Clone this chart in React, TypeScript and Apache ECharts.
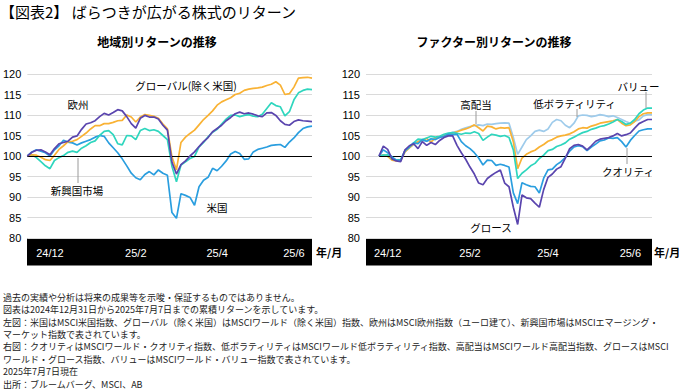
import React, { useEffect, useRef } from "react";
import * as echarts from "echarts";

// ---- Left panel: regional returns (index, 2024/12/31 = 100) ----
const usValues = [100, 101.0, 101.5, 101.2, 100.8, 100.0, 101.5, 102.5, 103.8, 103.4, 103.2, 102.7, 103.2, 103.6, 104.0, 104.6, 105.0, 104.8, 103.2, 102.0, 100.8, 99.3, 97.6, 95.8, 94.7, 94.2, 95.5, 96.2, 95.4, 96.6, 95.8, 95.3, 86.2, 84.8, 90.8, 90.4, 89.9, 88.0, 92.5, 94.1, 94.8, 97.0, 96.4, 97.5, 98.8, 100.5, 101.1, 100.6, 99.2, 99.3, 101.0, 101.6, 101.9, 102.2, 102.6, 102.7, 102.8, 102.1, 103.4, 104.4, 105.7, 106.7, 107.1, 107.3];
const globalExUsValues = [100, 100.3, 100.2, 99.7, 99.1, 98.9, 100.2, 101.6, 102.5, 103.5, 103.6, 104.0, 104.8, 105.6, 106.6, 107.4, 107.4, 107.9, 107.9, 108.2, 108.6, 108.7, 110.0, 109.5, 108.3, 109.5, 110.1, 109.9, 109.7, 109.2, 107.8, 106.6, 99.8, 96.6, 103.3, 104.6, 105.5, 106.3, 107.6, 108.9, 109.9, 111.0, 112.4, 113.2, 113.7, 114.2, 115.0, 115.3, 116.0, 116.3, 116.5, 116.6, 116.8, 117.2, 117.5, 118.1, 117.3, 115.0, 115.2, 116.8, 119.0, 119.1, 119.2, 119.0];
const europeValues = [100, 100.9, 101.4, 101.5, 101.0, 100.3, 101.8, 103.0, 103.3, 103.6, 104.6, 104.9, 106.5, 107.8, 108.1, 108.6, 109.6, 110.4, 110.0, 110.6, 111.3, 111.0, 109.6, 107.9, 106.8, 109.2, 109.9, 109.5, 109.5, 109.0, 107.5, 106.3, 98.5, 95.6, 97.9, 98.8, 100.0, 101.0, 102.3, 103.5, 104.5, 105.9, 106.7, 107.5, 108.6, 109.4, 110.3, 110.7, 110.3, 110.5, 110.2, 109.8, 109.6, 110.5, 110.6, 109.9, 108.6, 107.7, 107.5, 108.4, 108.8, 108.6, 108.5, 108.4];
const emValues = [100, 100.3, 99.6, 98.6, 97.6, 96.9, 98.9, 99.6, 100.1, 100.9, 101.2, 100.9, 101.9, 102.5, 103.3, 103.7, 105.0, 106.0, 106.2, 105.2, 103.0, 102.7, 105.0, 104.9, 104.0, 106.2, 106.7, 106.2, 106.4, 106.0, 105.0, 104.0, 97.5, 93.7, 97.8, 98.6, 99.4, 99.9, 102.2, 103.3, 104.7, 105.8, 106.5, 107.8, 109.0, 109.9, 110.0, 109.6, 109.9, 110.1, 109.7, 109.6, 110.2, 111.6, 113.0, 112.3, 112.0, 109.8, 110.8, 113.7, 115.4, 116.0, 116.3, 116.2];

// ---- Right panel: factor returns ----
const qualityValues = [100, 101.5, 100.8, 99.8, 99.0, 98.9, 101.3, 102.2, 103.2, 103.0, 104.0, 103.6, 104.2, 104.0, 104.5, 104.8, 105.3, 105.2, 105.3, 103.5, 102.5, 101.8, 100.8, 99.5, 97.8, 99.0, 98.9, 97.7, 98.0, 97.7, 97.3, 91.0, 88.4, 93.5, 93.0, 92.6, 92.5, 91.0, 94.6, 96.6, 96.8, 97.9, 98.6, 99.6, 101.2, 102.2, 102.5, 102.3, 101.3, 102.2, 102.9, 103.7, 103.9, 104.4, 104.3, 104.5, 103.5, 102.2, 103.8, 105.0, 106.1, 106.4, 106.6, 106.6];
const minVolValues = [100, 100.3, 100.0, 99.2, 98.9, 99.0, 101.0, 102.0, 102.8, 103.5, 103.8, 103.6, 104.0, 104.3, 104.6, 105.0, 105.4, 105.8, 106.0, 106.5, 106.9, 107.2, 107.4, 107.6, 107.4, 107.8, 107.7, 107.9, 108.0, 108.1, 108.0, 104.5, 100.4, 102.2, 104.0, 104.9, 106.0, 106.3, 106.0, 106.6, 108.2, 108.9, 108.6, 107.5, 106.9, 108.0, 109.8, 110.0, 109.9, 109.6, 109.8, 110.1, 109.9, 109.6, 109.8, 109.4, 108.9, 108.4, 108.0, 108.5, 108.8, 109.8, 110.1, 110.1];
const highDivValues = [100, 100.2, 99.9, 99.0, 98.8, 98.9, 101.0, 102.0, 102.9, 103.5, 103.8, 104.3, 103.4, 104.4, 104.7, 104.9, 105.2, 105.6, 105.9, 106.3, 106.6, 107.0, 107.6, 106.9, 106.1, 107.3, 107.1, 106.6, 106.9, 106.8, 106.9, 103.5, 96.9, 99.5, 100.4, 101.0, 101.4, 102.2, 102.8, 103.6, 104.0, 104.6, 104.9, 105.1, 105.4, 105.9, 106.6, 106.9, 106.8, 107.3, 107.6, 108.0, 108.2, 108.4, 108.6, 108.9, 108.0, 107.4, 107.6, 108.4, 109.6, 110.3, 110.5, 110.5];
const growthValues = [100, 102.4, 101.6, 99.3, 98.8, 98.6, 101.5, 102.5, 103.0, 101.8, 103.5, 102.6, 103.3, 102.8, 103.8, 104.5, 104.9, 104.9, 102.6, 100.8, 99.2, 97.3, 95.6, 93.4, 93.0, 94.5, 95.3, 96.0, 96.6, 93.4, 92.5, 87.5, 83.3, 90.5, 89.8, 89.6, 88.5, 87.5, 91.8, 94.8, 95.6, 96.8, 97.4, 99.5, 101.8, 102.6, 102.8, 102.4, 101.5, 102.5, 103.6, 104.1, 104.3, 104.5, 104.9, 105.5, 104.9, 105.2, 105.6, 106.8, 107.9, 108.4, 108.9, 108.9];
const valueValues = [100, 100.2, 100.3, 99.4, 99.0, 99.1, 101.3, 102.2, 103.2, 104.1, 104.0, 104.4, 104.8, 104.6, 104.8, 105.3, 105.6, 105.7, 105.5, 105.3, 105.6, 105.5, 105.9, 105.5, 103.8, 104.6, 105.3, 105.1, 104.8, 105.0, 104.5, 101.5, 94.5, 95.8, 96.6, 97.6, 98.2, 99.4, 100.2, 101.3, 101.6, 102.3, 102.7, 103.2, 104.1, 104.6, 105.2, 105.7, 106.0, 106.5, 106.8, 107.2, 107.4, 107.8, 108.3, 108.9, 108.4, 107.7, 108.0, 108.9, 110.3, 111.2, 111.7, 111.7];

// ---- Axis ticks ----
const tickLabels = ["24/12", "25/2", "25/4", "25/6"];
const leftTickIndex = [5, 24, 42, 59];
const rightTickIndex = [5, 24, 42, 61];
const rightPad = 3;
const yTicks = { min: 80, max: 120, interval: 5 };

const footnotes = [
  "過去の実績や分析は将来の成果等を示唆・保証するものではありません。",
  "図表は2024年12月31日から2025年7月7日までの累積リターンを示しています。",
  "左図：米国はMSCI米国指数、グローバル（除く米国）はMSCIワールド（除く米国）指数、欧州はMSCI欧州指数（ユーロ建て）、新興国市場はMSCIエマージング・",
  "マーケット指数で表されています。",
  "右図：クオリティはMSCIワールド・クオリティ指数、低ボラティリティはMSCIワールド低ボラティリティ指数、高配当はMSCIワールド高配当指数、グロースはMSCI",
  "ワールド・グロース指数、バリューはMSCIワールド・バリュー指数で表されています。",
  "2025年7月7日現在",
  "出所：ブルームバーグ、MSCI、AB",
];

const C = {
  orange: "#F9B234",
  teal: "#2FD6BE",
  purple: "#5A45AE",
  blue: "#2A9EDF",
  light: "#9ECBEB",
};

const FONT = "'Liberation Sans', 'Noto Sans CJK JP', sans-serif";
const JFONT = "'Noto Sans CJK JP', sans-serif";

export default function App() {
  const ref = useRef<HTMLDivElement>(null);
  useEffect(() => {
    if (!ref.current) return;
    const chart = echarts.init(ref.current, undefined, { renderer: "svg" });
    const N = usValues.length;
    const leftCats = usValues.map((_, i) => String(i));
    const rightCats = Array.from({ length: N + rightPad }, (_, i) => String(i));

    const line = (name: string, color: string, vals: number[], axis: number, offset: number, z: number) => ({
      name,
      type: "line",
      xAxisIndex: axis,
      yAxisIndex: axis,
      data: vals.map((v, i) => [i + offset, v]),
      showSymbol: false,
      symbol: "none",
      lineStyle: { color, width: 1.7 },
      itemStyle: { color },
      z,
      silent: true,
    });

    const baseLine = (from: number, to: number) => ({
      silent: true,
      symbol: ["none", "none"],
      label: { show: false },
      lineStyle: { color: "#000", width: 1.2, type: "solid" },
      data: [[{ coord: [from, 100] }, { coord: [to, 100] }]],
    });

    const xAxis = (gridIndex: number, cats: string[], ticks: number[]) => ({
      type: "category",
      gridIndex,
      data: cats,
      boundaryGap: false,
      axisLine: { show: false },
      axisTick: { show: false },
      z: 5,
      axisLabel: {
        interval: (i: number) => ticks.includes(i),
        formatter: (_v: string, i: number) => {
          const k = ticks.indexOf(i);
          return k >= 0 ? tickLabels[k] : "";
        },
        color: "#fff",
        fontSize: 11,
        fontFamily: FONT,
        margin: 9,
      },
    });
    const yAxis = (gridIndex: number) => ({
      type: "value",
      gridIndex,
      min: yTicks.min,
      max: yTicks.max,
      interval: yTicks.interval,
      axisLine: { show: false },
      axisTick: { show: false },
      axisLabel: { color: "#000", fontSize: 11, fontFamily: FONT, margin: 6 },
      splitLine: { lineStyle: { color: "#DADADA", width: 1 } },
    });

    const txt = (text: string, x: number, y: number, opts: any = {}) => ({
      type: "text",
      x,
      y,
      z: 20,
      style: {
        text,
        fill: "#000",
        fontSize: 10.5,
        fontFamily: JFONT,
        align: "center",
        verticalAlign: "middle",
        ...opts,
      },
    });
    const ptr = (x: number, y1: number, y2: number) => ({
      type: "line",
      z: 20,
      shape: { x1: x, y1, x2: x, y2 },
      style: { stroke: "#9A9A9A", lineWidth: 1 },
    });

    chart.setOption({
      animation: false,
      grid: [
        { left: 27, top: 74, width: 285, height: 164 },
        { left: 366, top: 74, width: 286, height: 164 },
      ],
      xAxis: [xAxis(0, leftCats, leftTickIndex), xAxis(1, rightCats, rightTickIndex)],
      yAxis: [yAxis(0), yAxis(1)],
      series: [
        { ...line("米国", C.blue, usValues, 0, 0, 2), markLine: baseLine(0, N - 1) },
        line("新興国市場", C.teal, emValues, 0, 0, 3),
        line("グローバル（除く米国）", C.orange, globalExUsValues, 0, 0, 4),
        line("欧州", C.purple, europeValues, 0, 0, 5),
        { ...line("低ボラティリティ", C.light, minVolValues, 1, rightPad, 2), markLine: baseLine(rightPad, N - 1 + rightPad) },
        line("高配当", C.orange, highDivValues, 1, rightPad, 3),
        line("バリュー", C.teal, valueValues, 1, rightPad, 4),
        line("クオリティ", C.blue, qualityValues, 1, rightPad, 5),
        line("グロース", C.purple, growthValues, 1, rightPad, 6),
      ],
      graphic: [
        { type: "rect", z: -1, shape: { x: 27, y: 238.5, width: 285, height: 27 }, style: { fill: "#000" } },
        { type: "rect", z: -1, shape: { x: 366, y: 238.5, width: 286, height: 27 }, style: { fill: "#000" } },
        txt("【図表2】 ばらつきが広がる株式のリターン", 0, 11, { fontSize: 15, align: "left" }),
        txt("地域別リターンの推移", 157, 41, { fontSize: 12, fontWeight: "bold" }),
        txt("ファクター別リターンの推移", 494, 41, { fontSize: 12, fontWeight: "bold" }),
        txt("年/月", 316, 252, { fontSize: 11, fontWeight: "bold", align: "left" }),
        txt("年/月", 654, 252, { fontSize: 11, fontWeight: "bold", align: "left" }),
        txt("グローバル(除く米国)", 186, 85),
        txt("欧州", 78, 104),
        txt("新興国市場", 77, 190),
        ptr(78, 158, 183),
        txt("米国", 217, 207),
        txt("高配当", 476, 104.5),
        ptr(476, 111, 124),
        txt("低ボラティリティ", 574.5, 103),
        ptr(577, 109, 117),
        txt("バリュー", 638.5, 86),
        ptr(646, 92, 108),
        txt("クオリティ", 628, 171),
        ptr(627, 148, 164),
        txt("グロース", 491, 227),
        {
          type: "text",
          x: 3,
          y: 291,
          z: 20,
          style: {
            text: footnotes.join("\n"),
            fill: "#222",
            fontSize: 9,
            lineHeight: 12.4,
            fontFamily: JFONT,
            align: "left",
            verticalAlign: "top",
          },
        },
      ],
    });
    return () => chart.dispose();
  }, []);
  return (
    <div
      ref={ref}
      style={{ position: "absolute", left: 0, top: 0, width: 679, height: 389, background: "#fff" }}
    />
  );
}
